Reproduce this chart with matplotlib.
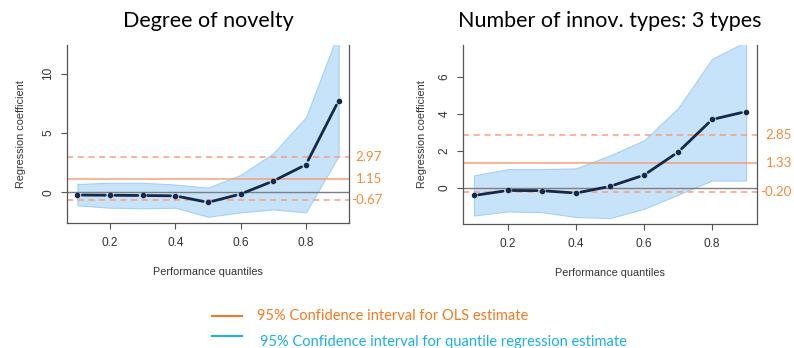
import numpy as np
import matplotlib.pyplot as plt
from matplotlib.transforms import blended_transform_factory, offset_copy

plt.rcParams['font.family'] = ['Liberation Sans', 'DejaVu Sans']

# quantiles
q = [0.1, 0.2, 0.3, 0.4, 0.5, 0.6, 0.7, 0.8, 0.9]

# panel 1: degree of novelty
nov_coef = [-0.23, -0.25, -0.27, -0.30, -0.85, -0.15, 0.95, 2.33, 7.72]
nov_hi = [0.70, 0.80, 0.80, 0.65, 0.39, 1.46, 3.29, 6.32, 13.5]
nov_lo = [-1.10, -1.30, -1.35, -1.30, -2.06, -1.69, -1.44, -1.69, 3.06]
nov_ols = [2.97, 1.15, -0.67]  # upper, estimate, lower

# panel 2: number of innovation types, 3 types
typ_coef = [-0.40, -0.13, -0.14, -0.27, 0.09, 0.70, 1.94, 3.70, 4.13]
typ_hi = [0.68, 1.02, 1.02, 1.06, 1.76, 2.57, 4.31, 6.97, 7.9]
typ_lo = [-1.48, -1.26, -1.30, -1.56, -1.62, -1.12, -0.36, 0.41, 0.41]
typ_ols = [2.85, 1.33, -0.20]

ols_col = '#F7A07C'
lab_col = '#F5893A'
band_col = '#C6E3FA'
band_edge = '#A3D0F7'
line_col = '#16284A'


def panel(ax, coef, hi, lo, ols, ylim, yticks, title, ypad, lab_off):
    ax.set_xlim(0.068, 0.932)
    ax.set_ylim(*ylim)
    ax.fill_between(q, lo, hi, color=band_col, edgecolor=band_edge, lw=0.8, zorder=1)
    ax.axhline(0, color='#7F7F7F', lw=1, zorder=2)
    ax.axhline(ols[0], color=ols_col, lw=1.1, ls=(0, (4, 3)), zorder=2)
    ax.axhline(ols[1], color=ols_col, lw=1.1, zorder=2)
    ax.axhline(ols[2], color=ols_col, lw=1.1, ls=(0, (4, 3)), zorder=2)
    # type="b" style: points with gapped segments
    for i in range(len(q) - 1):
        ax.annotate('', xy=(q[i + 1], coef[i + 1]), xytext=(q[i], coef[i]),
                    arrowprops=dict(arrowstyle='-', color=line_col, lw=2,
                                    shrinkA=3.5, shrinkB=3.5), zorder=4)
    ax.plot(q, coef, 'o', color=line_col, ms=3, zorder=5)
    tr = blended_transform_factory(ax.transAxes, ax.transData)
    tr = offset_copy(tr, fig=ax.figure, x=lab_off, y=0, units='dots')
    for v in ols:
        ax.text(1.0, v, '%.2f' % v, transform=tr,
                color=lab_col, fontsize=9.6, family='Lato', ha='right', va='center')
    ax.spines['top'].set_visible(False)
    for s in ['left', 'right', 'bottom']:
        ax.spines[s].set_color('#555555')
        ax.spines[s].set_linewidth(0.9)
    ax.set_xticks([0.2, 0.4, 0.6, 0.8])
    ax.set_yticks(yticks)
    ax.tick_params(axis='both', colors='#555555', labelcolor='#333333',
                   labelsize=8.6, length=4, width=0.8)
    ax.tick_params(axis='x', pad=6)
    ax.tick_params(axis='y', pad=5)
    for t in ax.get_yticklabels():
        t.set_rotation(90)
        t.set_va('center')
    ax.set_xlabel('Performance quantiles', fontsize=7.8, color='#333333', labelpad=13)
    ax.set_ylabel('Regression coefficient', fontsize=7.8, color='#333333', labelpad=ypad)
    ax.set_title(title, fontsize=15.5, family='Lato', pad=13)


fig = plt.figure(figsize=(7.94, 3.48), dpi=100)
ax1 = fig.add_axes([0.0844, 0.3592, 0.3552, 0.5115])
ax2 = fig.add_axes([0.5831, 0.3563, 0.3703, 0.5144])

panel(ax1, nov_coef, nov_hi, nov_lo, nov_ols, (-2.59, 12.42), [0, 5, 10],
      'Degree of novelty', 12, 33)
panel(ax2, typ_coef, typ_hi, typ_lo, typ_ols, (-1.94, 7.72), [0, 2, 4, 6],
      'Number of innov. types: 3 types', 8, 35)

# legend
fig.add_artist(plt.Line2D([212 / 794, 242 / 794], [1 - 316 / 348] * 2, color='#F47A20', lw=1.5))
fig.add_artist(plt.Line2D([212 / 794, 242 / 794], [1 - 336 / 348] * 2, color='#1AAFE6', lw=1.5))
fig.text(257 / 794, 1 - 316 / 348, '95% Confidence interval for OLS estimate',
         color='#F47A20', fontsize=10.5, family='Lato', va='center')
fig.text(260 / 794, 1 - 342 / 348, '95% Confidence interval for quantile regression estimate',
         color='#1AAFE6', fontsize=10.5, family='Lato', va='center')

fig.savefig('out.png', dpi=100)
